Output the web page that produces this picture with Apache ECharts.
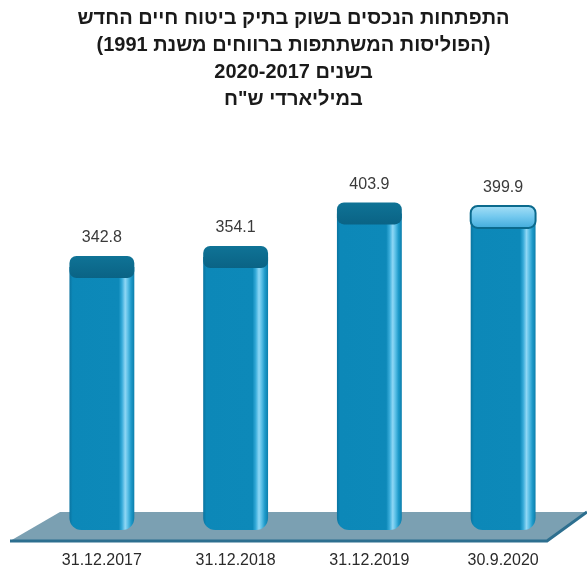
<!DOCTYPE html>
<html>
<head>
<meta charset="utf-8">
<script src="https://cdn.jsdelivr.net/npm/echarts@6/dist/echarts.min.js"></script>
<style>
  html, body { margin: 0; padding: 0; background: #fff; }
  #chart { width: 587px; height: 571px; }
</style>
</head>
<body>
<div id="chart" dir="rtl"></div>
<script>
var categories = ['31.12.2017', '31.12.2018', '31.12.2019', '30.9.2020'];
var assets = [342.8, 354.1, 403.9, 399.9];
var titleLines = [
    'התפתחות הנכסים בשוק בתיק ביטוח חיים החדש',
    '(הפוליסות המשתתפות ברווחים משנת 1991)',
    'בשנים 2020-2017',
    'במיליארדי ש"ח'
];

var yMin = 30;
var yMax = 450;

var chart = echarts.init(document.getElementById('chart'));

var bodyColor = new echarts.graphic.LinearGradient(0, 0, 1, 0, [
    { offset: 0, color: '#0a74a0' },
    { offset: 0.05, color: '#0c88b8' },
    { offset: 0.76, color: '#0d89b9' },
    { offset: 0.81, color: '#37abd9' },
    { offset: 0.86, color: '#8fd7f5' },
    { offset: 0.9, color: '#5cc0e7' },
    { offset: 0.95, color: '#1e9aca' },
    { offset: 1, color: '#0c7eab' }
]);
var capDark = new echarts.graphic.LinearGradient(0, 0, 0, 1, [
    { offset: 0, color: '#0f7396' },
    { offset: 1, color: '#0a6385' }
]);
var capLight = new echarts.graphic.LinearGradient(0, 0, 0, 1, [
    { offset: 0, color: '#a9e1f7' },
    { offset: 0.5, color: '#72c8ee' },
    { offset: 1, color: '#3ea9da' }
]);

function renderCylinder(params, api) {
    var idx = api.value(0);
    var top = api.coord([idx, api.value(1)]);
    var base = api.coord([idx, yMin]);
    var w = api.size([1, 0])[0] * 0.485;
    var x = top[0] - w / 2;
    var capH = 22;
    var last = params.dataIndex === categories.length - 1;
    return {
        type: 'group',
        children: [
            {
                type: 'rect',
                shape: { x: x, y: top[1] + capH / 2, width: w, height: base[1] - top[1] - capH / 2, r: [0, 0, 12, 12] },
                style: { fill: bodyColor }
            },
            {
                type: 'rect',
                shape: { x: x, y: top[1], width: w, height: capH, r: 7 },
                style: last
                    ? { fill: capLight, stroke: '#0b6a8d', lineWidth: 2 }
                    : { fill: capDark }
            },
            {
                type: 'text',
                x: top[0],
                y: top[1] - 18,
                style: {
                    text: String(api.value(1)),
                    fontSize: 16,
                    fontFamily: 'Liberation Sans, Arial, sans-serif',
                    fill: '#3a3a3a',
                    align: 'center',
                    verticalAlign: 'middle'
                }
            }
        ]
    };
}

var option = {
    title: {
        text: titleLines.join('\n'),
        left: 'center',
        top: 0,
        textStyle: {
            fontSize: 20,
            fontWeight: 'bold',
            lineHeight: 27,
            color: '#1a1a1a',
            fontFamily: 'Liberation Sans, Arial, sans-serif'
        }
    },
    graphic: [
        {
            type: 'polygon',
            z: -10,
            shape: { points: [[10, 541], [547, 541], [587, 512], [60, 512]] },
            style: { fill: '#7ba0b2' }
        },
        {
            type: 'polyline',
            z: -9,
            shape: { points: [[10, 541], [547, 541], [587, 512]] },
            style: { stroke: '#2d6f8f', lineWidth: 3, fill: null }
        }
    ],
    grid: { left: 35, right: 17, top: 162, bottom: 41 },
    xAxis: {
        type: 'category',
        data: categories,
        axisLine: { show: false },
        axisTick: { show: false },
        axisLabel: {
            margin: 23,
            fontSize: 16,
            color: '#2a2a2a',
            fontFamily: 'Liberation Sans, Arial, sans-serif'
        }
    },
    yAxis: {
        type: 'value',
        min: yMin,
        max: yMax,
        show: false
    },
    series: [{
        type: 'custom',
        renderItem: renderCylinder,
        data: assets.map(function (v, i) { return [i, v]; })
    }]
};

chart.setOption(option);
</script>
</body>
</html>
